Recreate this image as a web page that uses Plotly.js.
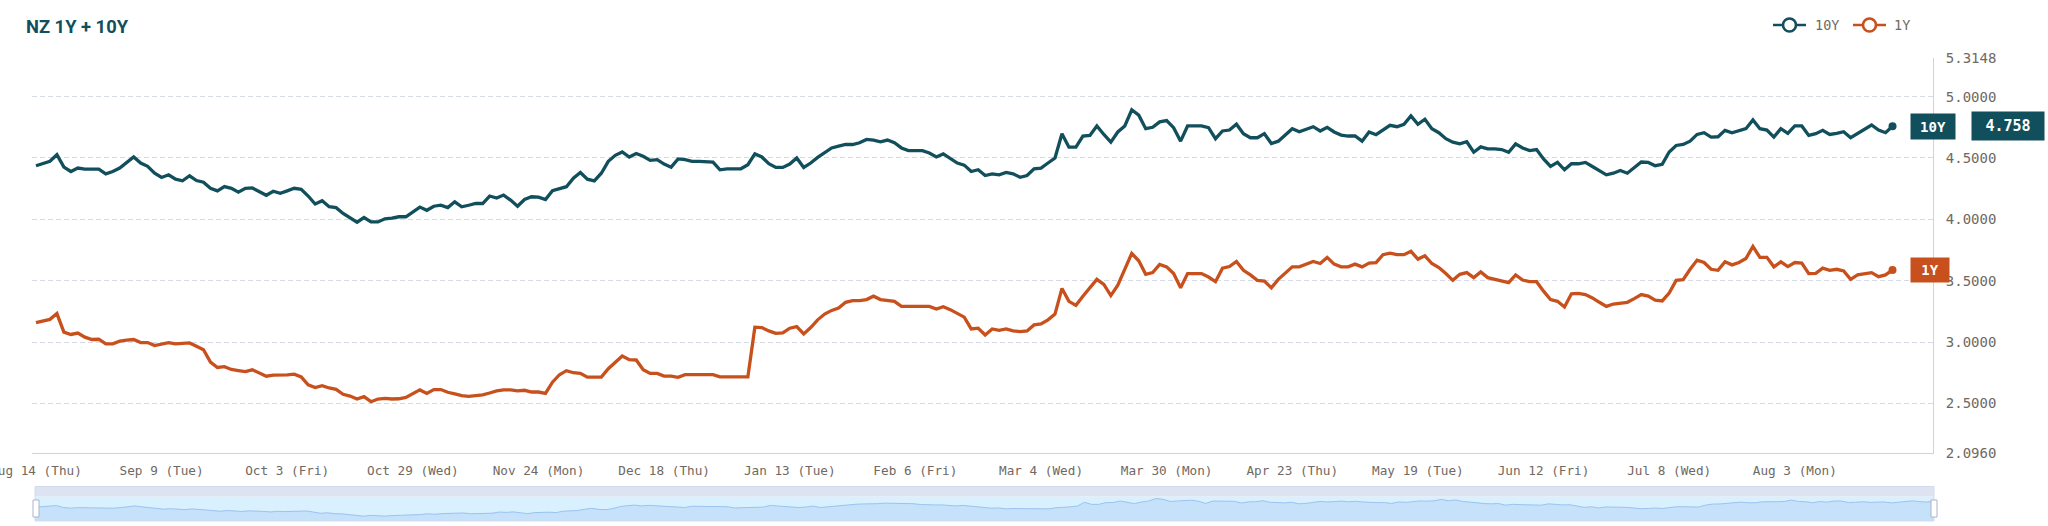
<!DOCTYPE html>
<html>
<head>
<meta charset="utf-8">
<script src="https://cdn.plot.ly/plotly-3.0.1.min.js"></script>
<style>
  html, body { margin: 0; padding: 0; background: #ffffff; }
  #chart { width: 2048px; height: 526px; }
</style>
</head>
<body>
<div id="chart"></div>
<script>
// ---- data ----
const seriesNames = ['10Y', '1Y'];
const firstTradingDay = '2025-08-14';

// one value per weekday starting at firstTradingDay (null = not readable)
const values10Y = [
  4.437, null, 4.473, 4.527, 4.426, 4.390, 4.418, 4.410, 4.410, 4.410,
  4.371, 4.390, 4.418, 4.459, 4.508, 4.459, 4.432, 4.377, 4.341, 4.363,
  4.327, 4.314, 4.355, 4.316, 4.303, 4.253, 4.232, 4.267, 4.253, 4.221,
  4.253, 4.256, 4.223, 4.196, 4.229, 4.212, 4.232, 4.253, 4.245, 4.190,
  4.125, 4.152, 4.103, 4.095, 4.048, 4.010, 3.977, 4.015, 3.979, 3.979,
  4.004, 4.010, 4.021, 4.021, 4.060, 4.100, 4.074, 4.107, 4.115, 4.096,
  4.143, 4.102, 4.115, 4.129, 4.129, 4.190, 4.173, 4.198, 4.157, 4.107,
  4.162, 4.184, 4.181, 4.162, 4.234, 4.253, 4.266, 4.335, 4.382, 4.327,
  4.313, 4.376, 4.473, 4.522, 4.549, 4.508, 4.536, 4.514, 4.481, 4.486,
  4.450, 4.425, 4.492, 4.486, 4.473, 4.473, 4.470, 4.467, 4.404, 4.412,
  4.412, 4.412, 4.445, 4.533, 4.508, 4.453, 4.423, 4.423, 4.451, 4.500,
  4.423, 4.459, 4.505, 4.541, 4.582, 4.596, 4.610, 4.610, 4.624, 4.651,
  4.646, 4.632, 4.646, 4.624, 4.582, 4.560, 4.560, 4.560, 4.541, 4.508,
  4.533, 4.492, 4.459, 4.442, 4.390, 4.404, 4.357, 4.371, 4.363, 4.382,
  4.371, 4.343, 4.357, 4.412, 4.418, 4.459, 4.500, 4.698, 4.588, 4.588,
  4.679, 4.684, 4.761, 4.692, 4.629, 4.712, 4.761, 4.893, 4.849, 4.739,
  4.750, 4.794, 4.805, 4.747, 4.637, 4.761, 4.761, 4.761, 4.747, 4.657,
  4.720, 4.728, 4.775, 4.698, 4.665, 4.665, 4.698, 4.618, 4.637, 4.687,
  4.739, 4.714, 4.734, 4.755, 4.720, 4.750, 4.712, 4.687, 4.679, 4.679,
  4.637, 4.712, 4.690, 4.728, 4.766, 4.755, 4.775, 4.843, 4.775, 4.816,
  4.739, 4.706, 4.657, 4.629, 4.615, 4.632, 4.547, 4.591, 4.574, 4.574,
  4.569, 4.547, 4.615, 4.582, 4.560, 4.569, 4.492, 4.431, 4.464, 4.404,
  4.453, 4.453, 4.464, 4.431, 4.396, 4.363, 4.376, 4.398, 4.376, 4.423,
  4.467, 4.464, 4.437, 4.448, 4.549, 4.602, 4.610, 4.637, 4.692, 4.706,
  4.670, 4.673, 4.725, 4.706, 4.725, 4.739, 4.810, 4.739, 4.728, 4.670,
  4.739, 4.701, 4.761, 4.761, 4.684, 4.698, 4.725, 4.692, 4.701, 4.714,
  4.665, 4.701, 4.739, 4.769, 4.728, 4.706, 4.758
];

const values1Y = [
  3.158, null, 3.185, 3.232, 3.081, 3.062, 3.073, 3.040, 3.021, 3.023,
  2.985, 2.985, 3.007, 3.015, 3.021, 2.996, 2.996, 2.971, 2.985, 2.996,
  2.985, 2.988, 2.993, 2.966, 2.938, 2.837, 2.793, 2.799, 2.777, 2.768,
  2.760, 2.774, 2.749, 2.722, 2.730, 2.730, 2.733, 2.738, 2.716, 2.651,
  2.629, 2.645, 2.626, 2.615, 2.574, 2.560, 2.536, 2.555, 2.514, 2.536,
  2.541, 2.536, 2.538, 2.549, 2.580, 2.610, 2.582, 2.613, 2.613, 2.591,
  2.577, 2.563, 2.558, 2.563, 2.569, 2.585, 2.602, 2.610, 2.610, 2.602,
  2.607, 2.593, 2.593, 2.582, 2.673, 2.734, 2.767, 2.750, 2.745, 2.714,
  2.714, 2.714, 2.783, 2.832, 2.887, 2.857, 2.854, 2.775, 2.745, 2.745,
  2.723, 2.723, 2.712, 2.734, 2.734, 2.734, 2.734, 2.734, 2.717, 2.717,
  2.717, 2.717, 2.717, 3.121, 3.118, 3.091, 3.071, 3.074, 3.113, 3.126,
  3.066, 3.118, 3.181, 3.228, 3.258, 3.277, 3.324, 3.338, 3.338, 3.346,
  3.374, 3.346, 3.338, 3.332, 3.291, 3.291, 3.291, 3.290, 3.291, 3.269,
  3.288, 3.264, 3.233, 3.203, 3.107, 3.113, 3.058, 3.107, 3.096, 3.107,
  3.091, 3.085, 3.091, 3.140, 3.148, 3.181, 3.228, 3.437, 3.332, 3.299,
  3.374, 3.442, 3.511, 3.470, 3.379, 3.464, 3.593, 3.723, 3.662, 3.552,
  3.566, 3.632, 3.613, 3.558, 3.442, 3.558, 3.558, 3.558, 3.530, 3.492,
  3.602, 3.615, 3.657, 3.585, 3.547, 3.503, 3.497, 3.442, 3.511, 3.560,
  3.613, 3.613, 3.635, 3.657, 3.640, 3.690, 3.635, 3.613, 3.613, 3.635,
  3.613, 3.643, 3.648, 3.712, 3.725, 3.712, 3.712, 3.739, 3.676, 3.703,
  3.640, 3.607, 3.558, 3.503, 3.552, 3.566, 3.525, 3.571, 3.525, 3.511,
  3.497, 3.484, 3.547, 3.505, 3.492, 3.492, 3.415, 3.346, 3.332, 3.286,
  3.393, 3.396, 3.387, 3.360, 3.324, 3.291, 3.310, 3.316, 3.324, 3.354,
  3.387, 3.374, 3.341, 3.335, 3.400, 3.503, 3.508, 3.593, 3.668, 3.648,
  3.593, 3.585, 3.654, 3.629, 3.648, 3.681, 3.780, 3.690, 3.690, 3.613,
  3.654, 3.615, 3.648, 3.643, 3.558, 3.560, 3.602, 3.585, 3.593, 3.580,
  3.511, 3.547, 3.558, 3.566, 3.533, 3.547, 3.588
];

const tickDates = ['2025-08-14','2025-09-09','2025-10-03','2025-10-29','2025-11-24','2025-12-18',
  '2026-01-13','2026-02-06','2026-03-04','2026-03-30','2026-04-23','2026-05-19',
  '2026-06-12','2026-07-08','2026-08-03'];
const tickLabels = ['Aug 14 (Thu)','Sep 9 (Tue)','Oct 3 (Fri)','Oct 29 (Wed)','Nov 24 (Mon)','Dec 18 (Thu)',
  'Jan 13 (Tue)','Feb 6 (Fri)','Mar 4 (Wed)','Mar 30 (Mon)','Apr 23 (Thu)','May 19 (Tue)',
  'Jun 12 (Fri)','Jul 8 (Wed)','Aug 3 (Mon)'];
const yTickVals = [2.096, 2.5, 3.0, 3.5, 4.0, 4.5, 5.0, 5.3148];
const yTickText = ['2.0960','2.5000','3.0000','3.5000','4.0000','4.5000','5.0000','5.3148'];
const xRange = ['2025-08-13 10:19', '2026-08-28 19:12'];
const yRange = [2.096, 5.3148];

// ---- calendar of trading (week) days ----
function tradingDays(start, n) {
  const out = [];
  const p = start.split('-').map(Number);
  let d = new Date(Date.UTC(p[0], p[1] - 1, p[2]));
  while (out.length < n) {
    const wd = d.getUTCDay();
    if (wd !== 0 && wd !== 6) out.push(d.toISOString().slice(0, 10));
    d = new Date(d.getTime() + 86400000);
  }
  return out;
}
const dates = tradingDays(firstTradingDay, values10Y.length);

// ---- style ----
const C10 = '#124f5c';
const C1 = '#c8501c';
const GRAY = '#6f6963';
const GRID = '#d5dae6';
const MONO = '"DejaVu Sans Mono", "Liberation Mono", monospace';
const W = 2048, H = 526;
const px = x => x / W;
const py = y => 1 - y / H;

const last = dates.length - 1;

const traces = [
  { x: dates, y: values10Y, name: seriesNames[0], type: 'scatter', mode: 'lines',
    line: { color: C10, width: 3.3 }, connectgaps: true, xaxis: 'x', yaxis: 'y', hoverinfo: 'skip' },
  { x: dates, y: values1Y, name: seriesNames[1], type: 'scatter', mode: 'lines',
    line: { color: C1, width: 3.3 }, connectgaps: true, xaxis: 'x', yaxis: 'y', hoverinfo: 'skip' },
  { x: [dates[last]], y: [values10Y[last]], type: 'scatter', mode: 'markers',
    marker: { color: C10, size: 8 }, xaxis: 'x', yaxis: 'y', hoverinfo: 'skip' },
  { x: [dates[last]], y: [values1Y[last]], type: 'scatter', mode: 'markers',
    marker: { color: C1, size: 8 }, xaxis: 'x', yaxis: 'y', hoverinfo: 'skip' },
  // slider data shadow (first series)
  { x: dates, y: values10Y, type: 'scatter', mode: 'lines', connectgaps: true,
    line: { color: '#9cc2f0', width: 1 }, fill: 'tozeroy', fillcolor: '#c6e1fa',
    xaxis: 'x2', yaxis: 'y2', hoverinfo: 'skip' }
];

const shapes = [
  { type: 'rect', xref: 'paper', yref: 'paper', x0: px(35), x1: px(1934), y0: py(521), y1: py(496.5),
    fillcolor: '#d9f0fe', line: { width: 0 }, layer: 'below' },
  { type: 'rect', xref: 'paper', yref: 'paper', x0: px(35), x1: px(1934), y0: py(496.5), y1: py(486.5),
    fillcolor: '#dde3f1', line: { width: 0 }, layer: 'below' },
  { type: 'rect', xref: 'paper', yref: 'paper', x0: px(35), x1: px(1934), y0: py(521), y1: py(486.5),
    fillcolor: 'rgba(0,0,0,0)', line: { color: '#d2dbee', width: 1 } },
  { type: 'rect', xref: 'paper', yref: 'paper', x0: px(33), x1: px(39), y0: py(517), y1: py(500),
    fillcolor: '#ffffff', line: { color: '#aab5ca', width: 1 } },
  { type: 'rect', xref: 'paper', yref: 'paper', x0: px(1931), x1: px(1937), y0: py(517), y1: py(500),
    fillcolor: '#ffffff', line: { color: '#aab5ca', width: 1 } },
  { type: 'line', xref: 'paper', yref: 'paper', x0: px(1773), x1: px(1806), y0: py(25), y1: py(25),
    line: { color: C10, width: 2.6 } },
  { type: 'circle', xref: 'paper', yref: 'paper', x0: px(1783), x1: px(1796), y0: py(31.5), y1: py(18.5),
    fillcolor: '#ffffff', line: { color: C10, width: 2.6 } },
  { type: 'line', xref: 'paper', yref: 'paper', x0: px(1853), x1: px(1886), y0: py(25), y1: py(25),
    line: { color: C1, width: 2.6 } },
  { type: 'circle', xref: 'paper', yref: 'paper', x0: px(1863), x1: px(1876), y0: py(31.5), y1: py(18.5),
    fillcolor: '#ffffff', line: { color: C1, width: 2.6 } }
];

const annotations = [
  { xref: 'paper', yref: 'paper', x: px(1813), y: py(25), xanchor: 'left', yanchor: 'middle',
    text: seriesNames[0], showarrow: false, font: { family: MONO, size: 13.5, color: GRAY } },
  { xref: 'paper', yref: 'paper', x: px(1892), y: py(25), xanchor: 'left', yanchor: 'middle',
    text: seriesNames[1], showarrow: false, font: { family: MONO, size: 13.5, color: GRAY } },
  { xref: 'paper', yref: 'y', x: px(1910), y: values10Y[last], xanchor: 'left', yanchor: 'middle',
    text: '<b>' + seriesNames[0] + '</b>', showarrow: false, bgcolor: C10, borderpad: 3,
    width: 38, height: 19, font: { family: MONO, size: 14, color: '#ffffff' } },
  { xref: 'paper', yref: 'y', x: px(1910), y: values1Y[last], xanchor: 'left', yanchor: 'middle',
    text: '<b>' + seriesNames[1] + '</b>', showarrow: false, bgcolor: C1, borderpad: 3,
    width: 32, height: 18, font: { family: MONO, size: 14, color: '#ffffff' } },
  { xref: 'paper', yref: 'y', x: px(1971), y: values10Y[last], xanchor: 'left', yanchor: 'middle',
    text: '<b>' + values10Y[last].toFixed(3) + '</b>', showarrow: false, bgcolor: C10, borderpad: 4,
    width: 64, height: 20, font: { family: MONO, size: 15, color: '#ffffff' } }
];

const layout = {
  width: W, height: H,
  margin: { l: 0, r: 0, t: 0, b: 0 },
  paper_bgcolor: '#ffffff', plot_bgcolor: 'rgba(0,0,0,0)',
  showlegend: false,
  title: { text: '<b>NZ 1Y + 10Y</b>', x: px(26), xanchor: 'left', xref: 'paper',
    y: py(26.5), yanchor: 'middle', yref: 'container',
    font: { family: 'Roboto, "Noto Sans", sans-serif', size: 19, color: '#134e5c' } },
  xaxis: {
    type: 'date', domain: [px(32), px(1933)], range: xRange, anchor: 'y',
    rangebreaks: [{ bounds: ['sat', 'mon'] }],
    tickmode: 'array', tickvals: tickDates, ticktext: tickLabels,
    ticks: '', showgrid: false, zeroline: false,
    showline: true, linecolor: '#cdd3e0', linewidth: 1,
    ticklabeloverflow: 'allow', ticklabelstandoff: 6,
    tickfont: { family: MONO, size: 12.7, color: GRAY }, automargin: false, fixedrange: true
  },
  yaxis: {
    domain: [py(453), py(58)], range: yRange, side: 'right', anchor: 'x',
    tickmode: 'array', tickvals: yTickVals, ticktext: yTickText,
    ticks: '', showgrid: true, gridcolor: GRID, griddash: '5px,3px', gridwidth: 1,
    zeroline: false, showline: true, linecolor: '#cdd3e0', linewidth: 1,
    ticklabelstandoff: 9,
    tickfont: { family: MONO, size: 14, color: GRAY }, automargin: false, fixedrange: true
  },
  xaxis2: {
    type: 'date', domain: [px(35), px(1934)], range: [dates[0], dates[last]], anchor: 'y2',
    rangebreaks: [{ bounds: ['sat', 'mon'] }],
    showticklabels: false, ticks: '', showgrid: false, zeroline: false, showline: false, fixedrange: true
  },
  yaxis2: {
    domain: [py(521), py(496.5)], range: [3.726, 4.996], anchor: 'x2',
    showticklabels: false, ticks: '', showgrid: false, zeroline: false, showline: false, fixedrange: true
  },
  shapes: shapes,
  annotations: annotations
};

Plotly.newPlot('chart', traces, layout, { displayModeBar: false, staticPlot: true }).then(function (gd) {
  // fit the real title text to the width measured on the reference
  const t = gd.querySelector('text.gtitle');
  if (t) {
    t.setAttribute('textLength', '102');
    t.setAttribute('lengthAdjust', 'spacingAndGlyphs');
  }
});
</script>
</body>
</html>
